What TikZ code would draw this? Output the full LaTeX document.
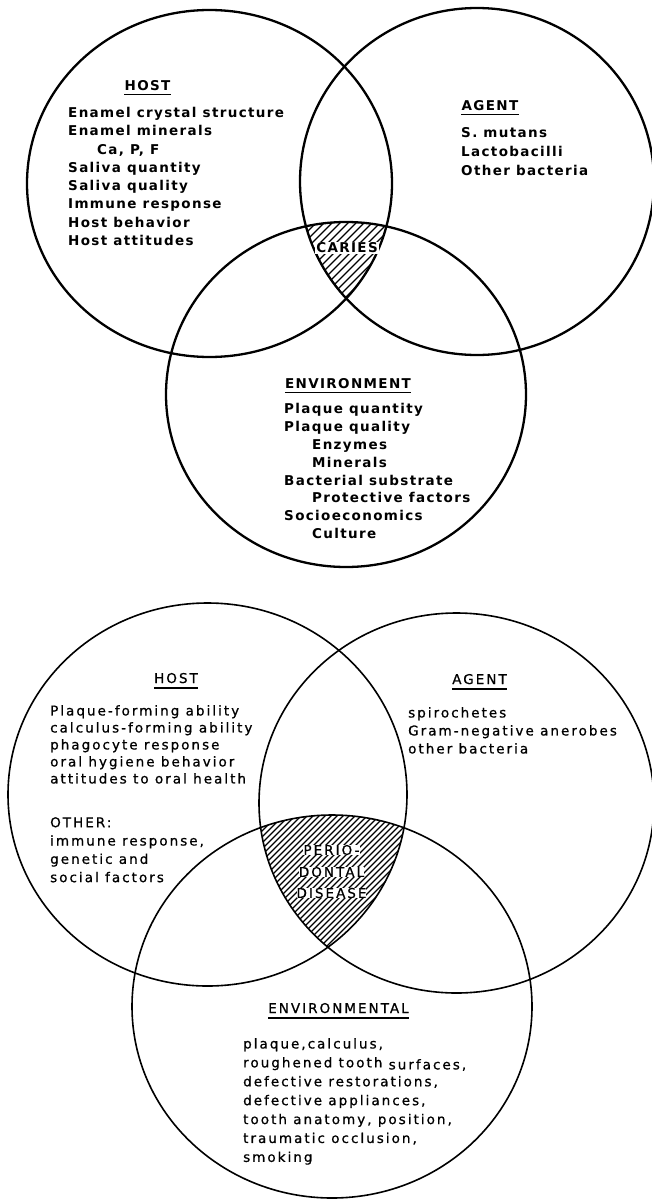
\documentclass[tikz,border=0pt]{standalone}
\usepackage{fontspec}
\setmainfont{DejaVu Sans}
\newfontfamily\topfont[LetterSpace=10]{DejaVu Sans}
\newfontfamily\botfont[LetterSpace=15,FakeBold=0.8]{DejaVu Sans}

\def\hostone{(209.5,183.5) ellipse [x radius=182.5, y radius=173.5]}
\def\agentone{(477,181.5) ellipse [x radius=177, y radius=173.5]}
\def\envone{(346,394.5) ellipse [x radius=180, y radius=172.5]}
\def\hosttwo{(207.5,794.5) ellipse [x radius=199.5, y radius=191.5]}
\def\agenttwo{(456.5,803) ellipse [x radius=197.5, y radius=190]}
\def\envtwo{(332,1006.5) ellipse [x radius=200, y radius=191.5]}

\begin{document}
\begin{tikzpicture}[x=1pt, y=-1pt,
	ring/.style={line width=2.3pt},
	ringb/.style={line width=1.6pt},
	hatch/.style={line width=1.1pt},
	uline/.style={line width=1.5pt},
	ttl/.style={anchor=base, inner sep=0pt},
	lst/.style={anchor=north west, inner sep=0pt, align=left},
	boldtxt/.style={font=\topfont\bfseries\fontsize{13.5}{#1}\selectfont},
	boldtxt/.default=18.3,
	thintxt/.style={font=\botfont\fontsize{13.5}{#1}\selectfont},
	thintxt/.default=18]
		\useasboundingbox (0,0) rectangle (652,1199);
		\clip (0,0) rectangle (652,1199);

		% caries
		\begin{scope}
			\clip \hostone; \clip \agentone; \clip \envone;
			\foreach \d in {-100,-92,...,100}
				\draw[hatch] (347+\d-90,350) -- (347+\d+90,170);
		\end{scope}
		\draw[ring] \hostone;
		\draw[ring] \agentone;
		\draw[ring] \envone;

		\node (caries)[boldtxt, fill=white, inner sep=1pt] at (347,248) {CARIES};

		\node (host1)[ttl, boldtxt] at (147.5,90) {HOST};
		\draw[uline] ([yshift=-4.5pt]host1.base west) -- ([yshift=-4.5pt]host1.base east);
		\node (hostlist1)[lst, boldtxt=18.3] at (68,107) {Enamel crystal structure\\Enamel minerals\\\hspace*{29pt}Ca, P, F\\Saliva quantity\\Saliva quality\\Immune response\\Host behavior\\Host attitudes};

		\node (agent1)[ttl, boldtxt] at (490,110) {AGENT};
		\draw[uline] ([yshift=-4.5pt]agent1.base west) -- ([yshift=-4.5pt]agent1.base east);
		\node (agentlist1)[lst, boldtxt=19] at (461,127) {S. mutans\\Lactobacilli\\Other bacteria};

		\node (env1)[ttl, boldtxt] at (348,388) {ENVIRONMENT};
		\draw[uline] ([yshift=-4.5pt]env1.base west) -- ([yshift=-4.5pt]env1.base east);
		\node (envlist1)[lst, boldtxt=17.9] at (284,403) {Plaque quantity\\Plaque quality\\\hspace*{28pt}Enzymes\\\hspace*{28pt}Minerals\\Bacterial substrate\\\hspace*{28pt}Protective factors\\Socioeconomics\\\hspace*{28pt}Culture};

		% periodontal disease
		\begin{scope}
			\clip \hosttwo; \clip \agenttwo; \clip \envtwo;
			\foreach \d in {-150,-144,...,150}
				\draw[hatch] (333+\d-100,980) -- (333+\d+100,780);
		\end{scope}
		\draw[ringb] \hosttwo;
		\draw[ringb] \agenttwo;
		\draw[ringb] \envtwo;

		\node (perio)[thintxt, fill=white, inner sep=0pt] at (331.5,850) {PERIO-};
		\node (dontal)[thintxt, fill=white, inner sep=0pt] at (331.5,872) {DONTAL};
		\node (disease)[thintxt, fill=white, inner sep=0pt] at (331.5,893) {DISEASE};

		\node (host2)[ttl, thintxt] at (176,683) {HOST};
		\draw[uline] ([yshift=-5pt]host2.base west) -- ([yshift=-5pt]host2.base east);
		\node (hostlist2)[lst, thintxt=17] at (50,705) {Plaque-forming ability\\calculus-forming ability\\phagocyte response\\oral hygiene behavior\\attitudes to oral health};
		\node (other2)[lst, thintxt=18.3] at (50,817) {OTHER:\\immune response,\\genetic and\\social factors};

		\node (agent2)[ttl, thintxt] at (479.5,684) {AGENT};
		\draw[uline] ([yshift=-5pt]agent2.base west) -- ([yshift=-5pt]agent2.base east);
		\node (agentlist2)[lst, thintxt=18] at (408,707) {spirochetes\\Gram-negative anerobes\\other bacteria};

		\node (env2)[ttl, thintxt] at (338.5,1013) {ENVIRONMENTAL};
		\draw[uline] ([yshift=-5pt]env2.base west) -- ([yshift=-5pt]env2.base east);
		\node (envlist2)[lst, thintxt=18.9] at (243,1038) {plaque,calculus,\\roughened tooth \raisebox{-2pt}{surfaces,}\\defective restorations,\\defective appliances,\\tooth anatomy, position,\\traumatic occlusion,\\smoking};
	\end{tikzpicture}
\end{document}
